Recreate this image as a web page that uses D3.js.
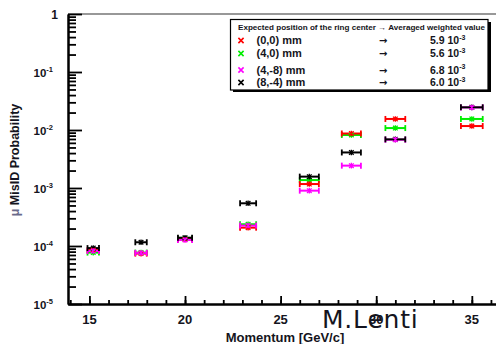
<!DOCTYPE html>
<html>
<head>
<meta charset="utf-8">
<script src="https://cdn.jsdelivr.net/npm/d3@7"></script>
<style>
  html, body { margin: 0; padding: 0; background: #fff; }
  svg { display: block; }
  text { font-family: "Liberation Sans", Arial, sans-serif; font-weight: bold; fill: #141420; }
</style>
</head>
<body>
<svg id="chart" width="496" height="344"></svg>
<script>
// Momentum bins [GeV/c] and their half-widths
const momentum = [15.2, 17.7, 20.0, 23.3, 26.5, 28.7, 31.0, 35.0];
const momentumErr = [0.3, 0.3, 0.37, 0.42, 0.5, 0.5, 0.52, 0.57];

// muon mis-identification probability for each ring-centre position
const misidA = [0.85e-4, 0.74e-4, 1.30e-4, 2.07e-4, 1.17e-3, 8.7e-3, 1.55e-2, 1.17e-2]; // (0,0)
const misidB = [0.77e-4, 0.77e-4, 1.35e-4, 2.37e-4, 1.37e-3, 8.2e-3, 1.08e-2, 1.55e-2]; // (4,0)
const misidC = [0.82e-4, 0.76e-4, 1.27e-4, 2.25e-4, 0.90e-3, 2.43e-3, 6.8e-3, 2.45e-2]; // (4,-8)
const misidD = [0.92e-4, 1.16e-4, 1.39e-4, 5.45e-4, 1.57e-3, 4.1e-3, 6.9e-3, 2.46e-2]; // (8,-4)

const positions = ["(0,0) mm", "(4,0) mm", "(4,-8) mm", "(8,-4) mm"];
const averages = ["5.9", "5.6", "6.8", "6.0"];
const colors = ["#ff0000", "#00ee00", "#ff00ff", "#000000"];

const xTicks = [15, 20, 25, 30, 35];
const yExponents = [0, -1, -2, -3, -4, -5];

const svg = d3.select("#chart");
const plot = { left: 68, right: 500.5, top: 14, bottom: 304 };

const x = d3.scaleLinear().domain([13.88, 36.5]).range([plot.left, plot.right]);
const y = d3.scaleLog().domain([1e-5, 1]).range([plot.bottom, plot.top]);

// frame top line
svg.append("line")
  .attr("x1", plot.left).attr("x2", plot.right)
  .attr("y1", plot.top).attr("y2", plot.top)
  .attr("stroke", "#333").attr("stroke-width", 1.2);

// y axis: major + minor ticks pointing inside
const yMinor = [];
for (let e = -5; e < 0; e++) for (let m = 2; m <= 9; m++) yMinor.push(m * Math.pow(10, e));

function styleAxis(g) {
  g.selectAll("path").attr("stroke", "#000").attr("stroke-width", 2);
  g.selectAll("line").attr("stroke", "#000").attr("stroke-width", 1.8);
  g.selectAll("text").remove();
}

svg.append("g").attr("transform", `translate(${plot.left},0)`)
  .call(d3.axisRight(y).tickValues(yMinor).tickSize(8).tickSizeOuter(0).tickFormat(""))
  .call(styleAxis);
svg.append("g").attr("transform", `translate(${plot.left},0)`)
  .call(d3.axisRight(y).tickValues(yExponents.map(e => Math.pow(10, e))).tickSize(14).tickSizeOuter(0).tickFormat(""))
  .call(styleAxis);

// x axis: ticks pointing up
const xMinor = d3.range(14, 37, 1);
svg.append("g").attr("transform", `translate(0,${plot.bottom})`)
  .call(d3.axisTop(x).tickValues(xMinor).tickSize(4).tickSizeOuter(0).tickFormat(""))
  .call(styleAxis);
svg.append("g").attr("transform", `translate(0,${plot.bottom})`)
  .call(d3.axisTop(x).tickValues(xTicks).tickSize(8).tickSizeOuter(0).tickFormat(""))
  .call(styleAxis);

// x tick labels
svg.append("g").selectAll("text").data(xTicks).join("text")
  .attr("x", d => x(d)).attr("y", 324)
  .attr("text-anchor", "middle").attr("font-size", 13)
  .text(d => d);

// y tick labels (powers of ten)
const yl = svg.append("g");
yExponents.forEach(e => {
  const yy = y(Math.pow(10, e));
  if (e === 0) {
    yl.append("text").attr("x", 58).attr("y", yy + 4.5)
      .attr("text-anchor", "end").attr("font-size", 12).text("1");
  } else {
    const t = yl.append("text").attr("x", 53).attr("y", yy + 4.5)
      .attr("text-anchor", "end").attr("font-size", 11.5);
    t.append("tspan").text("10");
    t.append("tspan").attr("font-size", 7.5).attr("dy", -4.5).text(String(e));
  }
});

// axis titles
svg.append("text")
  .attr("x", 285).attr("y", 342).attr("text-anchor", "middle").attr("font-size", 13)
  .text("Momentum [GeV/c]");

const yt = svg.append("text")
  .attr("transform", "translate(19,160) rotate(-90)")
  .attr("text-anchor", "middle").attr("font-size", 12.5);
yt.append("tspan").attr("fill", "#6a6a8a").text("\u03bc ");
yt.append("tspan").text(" MisID Probability");

// data series: bars drawn first, markers afterwards
const series = [
  { vals: misidB, col: colors[1] },
  { vals: misidA, col: colors[0] },
  { vals: misidC, col: colors[2] },
  { vals: misidD, col: colors[3] }
];
const pointsOf = s => momentum.map((m, i) => ({ m, e: momentumErr[i], v: s.vals[i] }));

series.forEach(s => {
  const g = svg.append("g");
  const pts = pointsOf(s);
  g.selectAll("line.bar").data(pts).join("line").attr("class", "bar")
    .attr("x1", d => x(d.m - d.e)).attr("x2", d => x(d.m + d.e))
    .attr("y1", d => y(d.v)).attr("y2", d => y(d.v))
    .attr("stroke", s.col).attr("stroke-width", 2);
  g.selectAll("line.capl").data(pts).join("line").attr("class", "capl")
    .attr("x1", d => x(d.m - d.e)).attr("x2", d => x(d.m - d.e))
    .attr("y1", d => y(d.v) - 3).attr("y2", d => y(d.v) + 3)
    .attr("stroke", s.col).attr("stroke-width", 1.8);
  g.selectAll("line.capr").data(pts).join("line").attr("class", "capr")
    .attr("x1", d => x(d.m + d.e)).attr("x2", d => x(d.m + d.e))
    .attr("y1", d => y(d.v) - 3).attr("y2", d => y(d.v) + 3)
    .attr("stroke", s.col).attr("stroke-width", 1.8);
});

// star markers; the (4,-8) markers sit on top
[series[0], series[1], series[3], series[2]].forEach(s => {
  svg.append("g").selectAll("path").data(pointsOf(s)).join("path")
    .attr("d", d => {
      const cx = x(d.m), cy = y(d.v), r = 2.3;
      return `M${cx - r},${cy - r}L${cx + r},${cy + r}M${cx - r},${cy + r}L${cx + r},${cy - r}M${cx},${cy - r - 0.5}L${cx},${cy + r + 0.5}`;
    })
    .attr("stroke", s.col).attr("stroke-width", 1.3).attr("fill", "none");
});

// legend box with shadow
const lg = svg.append("g");
lg.append("rect").attr("x", 233).attr("y", 22).attr("width", 258).attr("height", 70).attr("fill", "#000");
lg.append("rect").attr("x", 230.5).attr("y", 19.5).attr("width", 257.5).attr("height", 70.5)
  .attr("fill", "#fff").attr("stroke", "#000").attr("stroke-width", 1.2);

lg.append("text").attr("x", 238).attr("y", 29.5).attr("font-size", 7)
  .attr("textLength", 247).attr("lengthAdjust", "spacingAndGlyphs")
  .text("Expected position of the ring center \u2192 Averaged weighted value");

const rowY = [44, 57, 73.5, 86];
positions.forEach((p, i) => {
  const ry = rowY[i];
  const cx = 241, cy = ry - 3.5, r = 2.6;
  lg.append("path")
    .attr("d", `M${cx - r},${cy - r}L${cx + r},${cy + r}M${cx - r},${cy + r}L${cx + r},${cy - r}`)
    .attr("stroke", colors[i]).attr("stroke-width", 1.6);
  lg.append("text").attr("x", 256.5).attr("y", ry).attr("font-size", 11).text(p);
  lg.append("text").attr("x", 379).attr("y", ry).attr("font-size", 10).attr("font-weight", "normal")
    .style("font-family", "DejaVu Sans, sans-serif").text("\u2192");
  const vt = lg.append("text").attr("x", 430).attr("y", ry).attr("font-size", 10.5);
  vt.append("tspan").text(averages[i] + " 10");
  vt.append("tspan").attr("font-size", 7).attr("dy", -4.5).text("-3");
});

// author tag
svg.append("text").attr("x", 322).attr("y", 327.5)
  .style("font-family", "DejaVu Sans, sans-serif").style("font-weight", "normal")
  .attr("font-size", 25).attr("fill", "#777").attr("letter-spacing", 0.8)
  .text("M.Lenti");
</script>
</body>
</html>
